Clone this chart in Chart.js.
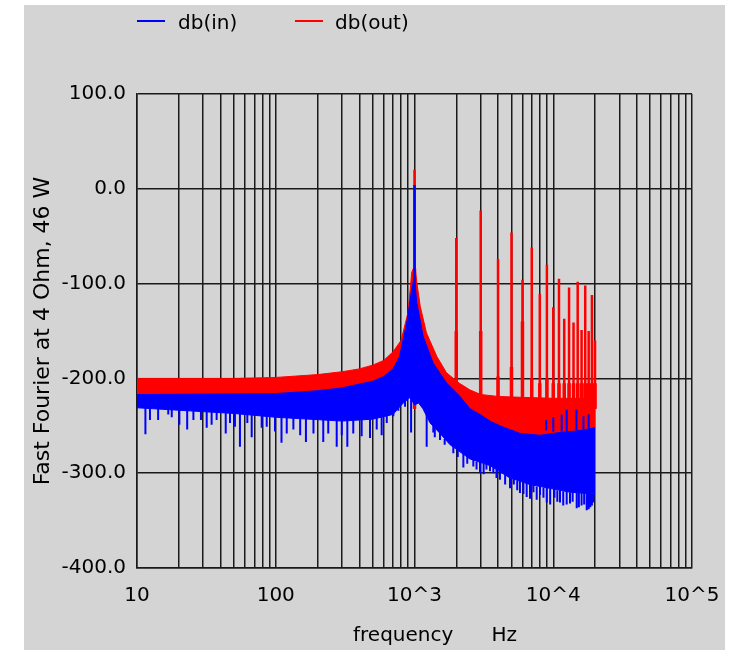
<!DOCTYPE html>
<html>
<head>
<meta charset="utf-8">
<title>Fast Fourier</title>
<script src="https://cdn.jsdelivr.net/npm/chart.js@4.4.1/dist/chart.umd.min.js"></script>
<style>
  html, body { margin: 0; padding: 0; background: #fff; }
  #panel { position: absolute; left: 24px; top: 5px; width: 701px; height: 645px; background: #d4d4d4; }
  #chart { position: absolute; left: 0; top: 0; }
  .txt { position: absolute; font: 20px "DejaVu Sans", sans-serif; color: #000; white-space: pre; line-height: 24px; }
  .key { position: absolute; height: 2px; width: 28px; top: 15px; }
</style>
</head>
<body>
<div id="panel">
  <canvas id="chart" width="701" height="645"></canvas>
  <div id="legend"></div>
  <div class="txt" id="xtitle" style="left:329px; top:617px;">frequency      Hz</div>
</div>
<script>
// log grid on the frequency axis
const xGrid = [10, 20, 30, 40, 50, 60, 70, 80, 90,
  100, 200, 300, 400, 500, 600, 700, 800, 900,
  1000, 2000, 3000, 4000, 5000, 6000, 7000, 8000, 9000,
  10000, 20000, 30000, 40000, 50000, 60000, 70000, 80000, 90000, 100000];
const xLabelAt = [10, 100, 1000, 10000, 100000];
const xLabelText = ['10', '100', '10^3', '10^4', '10^5'];

const seriesNames = ['db(in)', 'db(out)'];

// db(out) noise floor: upper and lower edge
const outHighFreq = [10, 50, 100, 200, 300, 400, 500, 600, 700, 800, 900, 955, 985, 1015, 1040, 1100, 1220, 1450, 1700, 2100, 2500, 3000, 4000, 6000, 10000, 15000, 20000];
const outHigh = [-200, -200, -199, -196, -193, -190, -186, -181, -172, -160, -130, -88, -84, -86, -99, -124, -152, -177, -194, -205, -212, -217, -219, -220, -221, -221, -222];
const outLowFreq = [10, 100, 300, 500, 700, 800, 900, 1000, 1100, 1300, 1700, 2100, 3000, 4000, 6000, 10000, 15000, 20000];
const outLow = [-224, -224, -218, -212, -200, -190, -165, -125, -170, -200, -215, -228, -245, -252, -260, -262, -260, -258];

// db(out) fundamental and harmonics
const outToneFreq = [1000, 2000, 3000, 4000, 5000, 6000, 7000, 8000, 9000, 10000,
  11000, 12000, 13000, 14000, 15000, 16000, 17000, 18000, 19000, 20000];
const outToneTop = [20, -52, -23, -74, -46, -96, -62, -111, -80, -125,
  -95, -137, -104, -141, -98, -149, -102, -150, -112, -160];
const outSkirtTop = [-84, -150, -150, -198, -188, -140, -200, -205, -200, -205,
  -205, -205, -205, -205, -205, -205, -205, -205, -205, -205];

// db(in) noise floor: upper and lower edge
const inHighFreq = [10, 100, 200, 300, 400, 500, 600, 700, 780, 880, 955, 990, 1010, 1038, 1157, 1365, 1707, 2128, 2512, 2965, 3500, 4130, 5755, 8020, 11190, 15600, 20000];
const inHigh = [-217, -216, -213, -210, -206, -203, -198, -190, -177, -141, -106, -95, -100, -120, -156, -184, -205, -219, -232, -238, -245, -250, -258, -260, -257, -255, -252];
const inLowFreq = [10, 50, 100, 300, 500, 700, 760, 830, 930, 1000, 1070, 1150, 1295, 1527, 1805, 2512, 3500, 4880, 6800, 9450, 13200, 20000];
const inLow = [-231, -237, -241, -245, -243, -238, -232, -226, -220, -228, -226, -232, -247, -258, -270, -285, -292, -305, -312, -316, -320, -322];

// db(in) fundamental
const inToneFreq = [1000];
const inToneTop = [4];

// db(in) single-bin dips (and a few rises on the right)
const inDipFreq = [11.5, 12.4, 14.2, 16.8, 17.8, 20.2, 23, 25.5, 28.9, 31.8, 34.5, 37.5, 43.6, 46.8, 50.8, 55.2, 62.4, 67.1, 79.2, 86.1, 98.8,
  110, 120, 134, 150, 165, 187, 220, 239, 275, 299, 328, 362, 416, 478, 534, 580, 631, 704, 765, 855, 945,
  1224, 1366, 1527, 1905, 2250, 2655, 2966, 3300, 3700, 4130, 4877, 5200, 5755, 6435, 7200, 8030, 8975, 10200, 11190, 12500, 13800, 14760, 16000, 17420, 18500, 19450,
  1400, 1650, 2050, 2400, 2800, 3150, 3500, 3900, 4500, 5500, 6100, 6800, 7600, 8500, 9500, 10700, 11800, 13200, 15300, 16700, 18000, 19000,
  8900, 10000, 11500, 12500, 14700, 16500, 18000];
const inDipFrom = [-225, -225, -225, -225, -225, -226, -226, -226, -226, -226, -228, -228, -230, -230, -230, -232, -232, -232, -234, -234, -234,
  -236, -236, -236, -238, -238, -238, -238, -238, -238, -238, -238, -238, -238, -236, -236, -236, -232, -228, -222, -212, -215,
  -235, -245, -250, -262, -275, -282, -285, -288, -292, -295, -300, -302, -305, -308, -310, -312, -314, -316, -318, -318, -319, -320, -320, -321, -321, -322,
  -250, -264, -275, -283, -288, -290, -292, -296, -302, -308, -310, -312, -314, -315, -316, -318, -319, -320, -321, -321, -321, -322,
  -255, -256, -256, -256, -255, -254, -253];
const inDipTo = [-259, -244, -244, -238, -241, -249, -254, -244, -244, -252, -249, -244, -258, -247, -251, -272, -247, -262, -252, -251, -256,
  -268, -258, -254, -260, -267, -258, -267, -258, -272, -260, -272, -258, -261, -263, -254, -260, -247, -240, -234, -230, -257,
  -272, -257, -265, -279, -294, -293, -300, -296, -300, -307, -316, -312, -321, -325, -320, -323, -331, -326, -331, -333, -330, -337, -334, -339, -336, -331,
  -262, -270, -283, -290, -296, -301, -298, -305, -312, -318, -322, -327, -328, -326, -333, -330, -334, -332, -336, -333, -338, -334,
  -244, -241, -238, -233, -233, -240, -238];

const RED = '#ff0000';
const BLUE = '#0000ff';
const GRID = '#1a1a1a';
const toneBase = -232;

function line(freq, vals) {
  return freq.map((f, i) => ({x: f, y: vals[i]}));
}

// vertical strokes at fixed frequencies, broken apart by gaps
function strokes(freq, from, to) {
  const pts = [];
  freq.forEach((f, i) => {
    const a = Array.isArray(from) ? from[i] : from;
    pts.push({x: f, y: a}, {x: f, y: to[i]}, {x: f, y: null});
  });
  return pts;
}

// legend above the plot
const legend = document.getElementById('legend');
const keyLeft = [113, 271];
const textLeft = [154, 311];
[BLUE, RED].forEach((c, i) => {
  const k = document.createElement('div');
  k.className = 'key';
  k.style.left = keyLeft[i] + 'px';
  k.style.background = c;
  legend.appendChild(k);
  const t = document.createElement('div');
  t.className = 'txt';
  t.style.left = textLeft[i] + 'px';
  t.style.top = '5px';
  t.textContent = seriesNames[i];
  legend.appendChild(t);
});

Chart.defaults.font.family = '"DejaVu Sans", sans-serif';
Chart.defaults.color = '#000';

const ctx = document.getElementById('chart').getContext('2d');
const base = {pointRadius: 0, tension: 0, fill: false, spanGaps: false};

new Chart(ctx, {
  type: 'line',
  data: {
    datasets: [
      Object.assign({}, base, {label: seriesNames[1], data: line(outHighFreq, outHigh), borderColor: RED, backgroundColor: RED, borderWidth: 1, fill: '+1', order: 8}),
      Object.assign({}, base, {label: seriesNames[1], data: line(outLowFreq, outLow), borderColor: RED, borderWidth: 1, order: 8}),
      Object.assign({}, base, {label: seriesNames[1], data: strokes(outToneFreq, toneBase, outSkirtTop), borderColor: RED, borderWidth: 3.5, order: 7}),
      Object.assign({}, base, {label: seriesNames[1], data: strokes(outToneFreq, toneBase, outToneTop), borderColor: RED, borderWidth: 2.5, order: 6}),
      Object.assign({}, base, {label: seriesNames[0], data: line(inHighFreq, inHigh), borderColor: BLUE, backgroundColor: BLUE, borderWidth: 1, fill: '+1', order: 4}),
      Object.assign({}, base, {label: seriesNames[0], data: line(inLowFreq, inLow), borderColor: BLUE, borderWidth: 1, order: 4}),
      Object.assign({}, base, {label: seriesNames[0], data: strokes(inDipFreq, inDipFrom, inDipTo), borderColor: BLUE, borderWidth: 2, order: 3}),
      Object.assign({}, base, {label: seriesNames[0], data: strokes(inToneFreq, -120, inToneTop), borderColor: BLUE, borderWidth: 2.5, order: 2})
    ]
  },
  options: {
    responsive: false,
    animation: false,
    layout: {padding: {top: 89, right: 33, bottom: 0, left: 0}},
    plugins: {legend: {display: false}, tooltip: {enabled: false}},
    scales: {
      x: {
        type: 'logarithmic',
        min: 10,
        max: 100000,
        afterBuildTicks: s => { s.ticks = xGrid.map(v => ({value: v})); },
        afterFit: s => { s.height = 82; s.paddingLeft = 0; s.paddingRight = 0; },
        ticks: {
          autoSkip: false,
          maxRotation: 0,
          padding: 16,
          font: {size: 20},
          callback: v => {
            const i = xLabelAt.indexOf(v);
            return i >= 0 ? xLabelText[i] : '';
          }
        },
        grid: {color: GRID, lineWidth: 1.5, drawTicks: false},
        border: {color: GRID, width: 1.5}
      },
      y: {
        min: -400,
        max: 100,
        afterFit: s => { s.width = 113; s.paddingTop = 0; s.paddingBottom = 0; },
        ticks: {stepSize: 100, padding: 11, font: {size: 20}, callback: v => v.toFixed(1)},
        title: {display: true, text: 'Fast Fourier at 4 Ohm, 46 W', font: {size: 22}, padding: {top: 6, bottom: 0}},
        grid: {color: GRID, lineWidth: 1.5, drawTicks: false},
        border: {color: GRID, width: 1.5}
      }
    }
  }
});
</script>
</body>
</html>
